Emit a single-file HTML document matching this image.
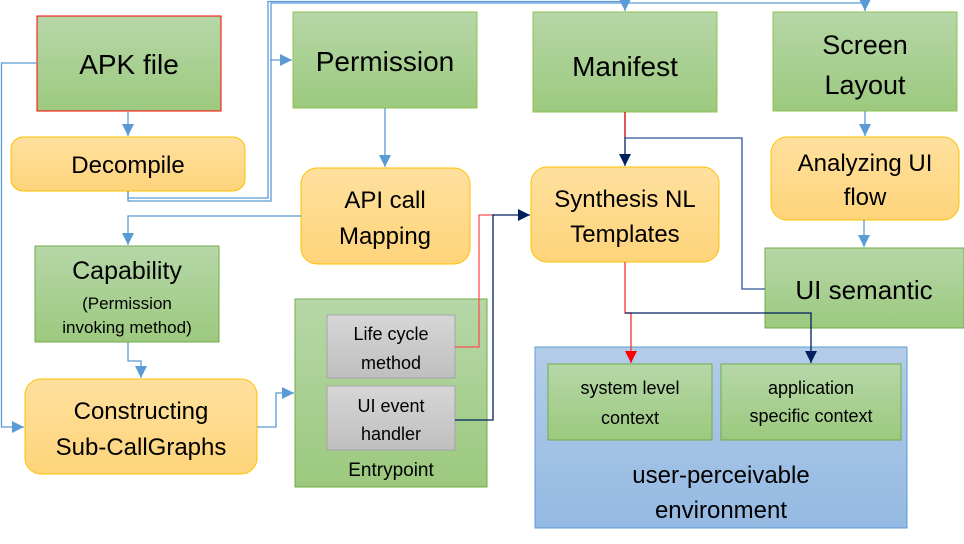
<!DOCTYPE html>
<html><head><meta charset="utf-8"><style>
html,body{margin:0;padding:0;background:#fff;}
svg{display:block;}
text{font-family:"Liberation Sans",sans-serif;fill:#000;text-anchor:middle;}
</style></head><body>
<svg width="964" height="544" viewBox="0 0 964 544" xmlns="http://www.w3.org/2000/svg">
<defs>
<linearGradient id="g" x1="0" y1="0" x2="0" y2="1"><stop offset="0" stop-color="#b6d7a8"/><stop offset="1" stop-color="#9cc97e"/></linearGradient>
<linearGradient id="o" x1="0" y1="0" x2="0" y2="1"><stop offset="0" stop-color="#fee09e"/><stop offset="1" stop-color="#fed47a"/></linearGradient>
<linearGradient id="gr" x1="0" y1="0" x2="0" y2="1"><stop offset="0" stop-color="#d6d6d6"/><stop offset="1" stop-color="#bfbfbf"/></linearGradient>
<linearGradient id="b" x1="0" y1="0" x2="0" y2="1"><stop offset="0" stop-color="#b3cce8"/><stop offset="1" stop-color="#94b9e2"/></linearGradient>
<marker id="ab" markerWidth="14" markerHeight="14" refX="12" refY="6" orient="auto" markerUnits="userSpaceOnUse"><path d="M0,0 L12,6 L0,12z" fill="#5b9bd5"/></marker>
<marker id="an" markerWidth="14" markerHeight="14" refX="12" refY="6" orient="auto" markerUnits="userSpaceOnUse"><path d="M0,0 L12,6 L0,12z" fill="#002060"/></marker>
<marker id="ar" markerWidth="14" markerHeight="14" refX="12" refY="6" orient="auto" markerUnits="userSpaceOnUse"><path d="M0,0 L12,6 L0,12z" fill="#ff0000"/></marker>
</defs>

<rect x="37" y="16" width="184" height="95" fill="url(#g)" stroke="#ff0000" stroke-width="1"/>
<text x="129" y="74" font-size="28">APK file</text>
<rect x="293" y="12" width="184" height="96" fill="url(#g)" stroke="#8dc14f"/>
<text x="385" y="71" font-size="28">Permission</text>
<rect x="533" y="12" width="184" height="100" fill="url(#g)" stroke="#8dc14f"/>
<text x="625" y="76" font-size="28">Manifest</text>
<rect x="773" y="12" width="184" height="99" fill="url(#g)" stroke="#8dc14f"/>
<text x="865" y="54" font-size="27">Screen</text>
<text x="865" y="94" font-size="27">Layout</text>

<rect x="11" y="137" width="234" height="54" rx="12" fill="url(#o)" stroke="#ffc000"/>
<text x="128" y="173" font-size="24">Decompile</text>
<rect x="301" y="168" width="169" height="96" rx="16" fill="url(#o)" stroke="#ffc000"/>
<text x="385" y="208" font-size="24">API call</text>
<text x="385" y="244" font-size="24">Mapping</text>
<rect x="531" y="167" width="188" height="95" rx="16" fill="url(#o)" stroke="#ffc000"/>
<text x="625" y="207" font-size="24">Synthesis NL</text>
<text x="625" y="242" font-size="24">Templates</text>
<rect x="771" y="137" width="188" height="83" rx="16" fill="url(#o)" stroke="#ffc000"/>
<text x="865" y="171" font-size="24">Analyzing UI</text>
<text x="865" y="205" font-size="24">flow</text>

<rect x="35" y="246" width="184" height="96" fill="url(#g)" stroke="#70ad47"/>
<text x="127" y="279" font-size="25">Capability</text>
<text x="127" y="309" font-size="17">(Permission</text>
<text x="127" y="333" font-size="17">invoking method)</text>

<rect x="765" y="248" width="199" height="80" fill="url(#g)" stroke="#70ad47"/>
<text x="864" y="299" font-size="26">UI semantic</text>

<rect x="25" y="379" width="232" height="95" rx="16" fill="url(#o)" stroke="#ffc000"/>
<text x="141" y="419" font-size="24">Constructing</text>
<text x="141" y="455" font-size="24">Sub-CallGraphs</text>

<rect x="295" y="299" width="192" height="188" fill="url(#g)" stroke="#70ad47"/>
<rect x="327" y="315" width="128" height="63" fill="url(#gr)" stroke="#a5a5a5"/>
<text x="391" y="340" font-size="18">Life cycle</text>
<text x="391" y="369" font-size="18">method</text>
<rect x="327" y="386" width="128" height="64" fill="url(#gr)" stroke="#a5a5a5"/>
<text x="391" y="412" font-size="18">UI event</text>
<text x="391" y="440" font-size="18">handler</text>
<text x="391" y="476" font-size="19">Entrypoint</text>

<rect x="535" y="347" width="372" height="181" fill="url(#b)" stroke="#5b9bd5"/>
<rect x="548" y="364" width="164" height="76" fill="url(#g)" stroke="#70ad47"/>
<text x="630" y="394" font-size="18">system level</text>
<text x="630" y="424" font-size="18">context</text>
<rect x="721" y="364" width="180" height="76" fill="url(#g)" stroke="#70ad47"/>
<text x="811" y="394" font-size="18">application</text>
<text x="811" y="422" font-size="18">specific context</text>
<text x="721" y="483" font-size="24">user-perceivable</text>
<text x="721" y="518" font-size="24">environment</text>

<g fill="none" stroke="#5b9bd5" stroke-width="1.3">
<path d="M37,63 H1.5 V427 H24" marker-end="url(#ab)"/>
<path d="M128,111 V136" marker-end="url(#ab)"/>
<path d="M128,191 V198 H268 V1.5 H625 V11" marker-end="url(#ab)"/>
<path d="M128,191 V201 H271 V3 H865 V11" />
<path d="M865,3 V11" marker-end="url(#ab)"/>
<path d="M270,60 H292" marker-end="url(#ab)"/>
<path d="M385,108 V167" marker-end="url(#ab)"/>
<path d="M301,216 H128 V245" marker-end="url(#ab)"/>
<path d="M128,342 V361 H141 V378" marker-end="url(#ab)"/>
<path d="M257,427 H276 V393 H294" marker-end="url(#ab)"/>
<path d="M865,111 V136" marker-end="url(#ab)"/>
<path d="M864,220 V247" marker-end="url(#ab)"/>
</g>
<g fill="none" stroke-width="1.3">
<path d="M455,347 H479 V215 H495" stroke="#ff5050"/>
<path d="M455,420 H493 V215 H530" stroke="#002060" marker-end="url(#an)"/>
<path d="M625,112 V137" stroke="#c00000"/>
<path d="M625,137 V166" stroke="#002060" marker-end="url(#an)"/>
<path d="M625,138 H742 V289 H765" stroke="#2f5597"/>
<path d="M625,262 V313 H631 V363" stroke="#ff3030" marker-end="url(#ar)"/>
<path d="M625,313 H811 V363" stroke="#002060" marker-end="url(#an)"/>
</g>
</svg>
</body></html>
